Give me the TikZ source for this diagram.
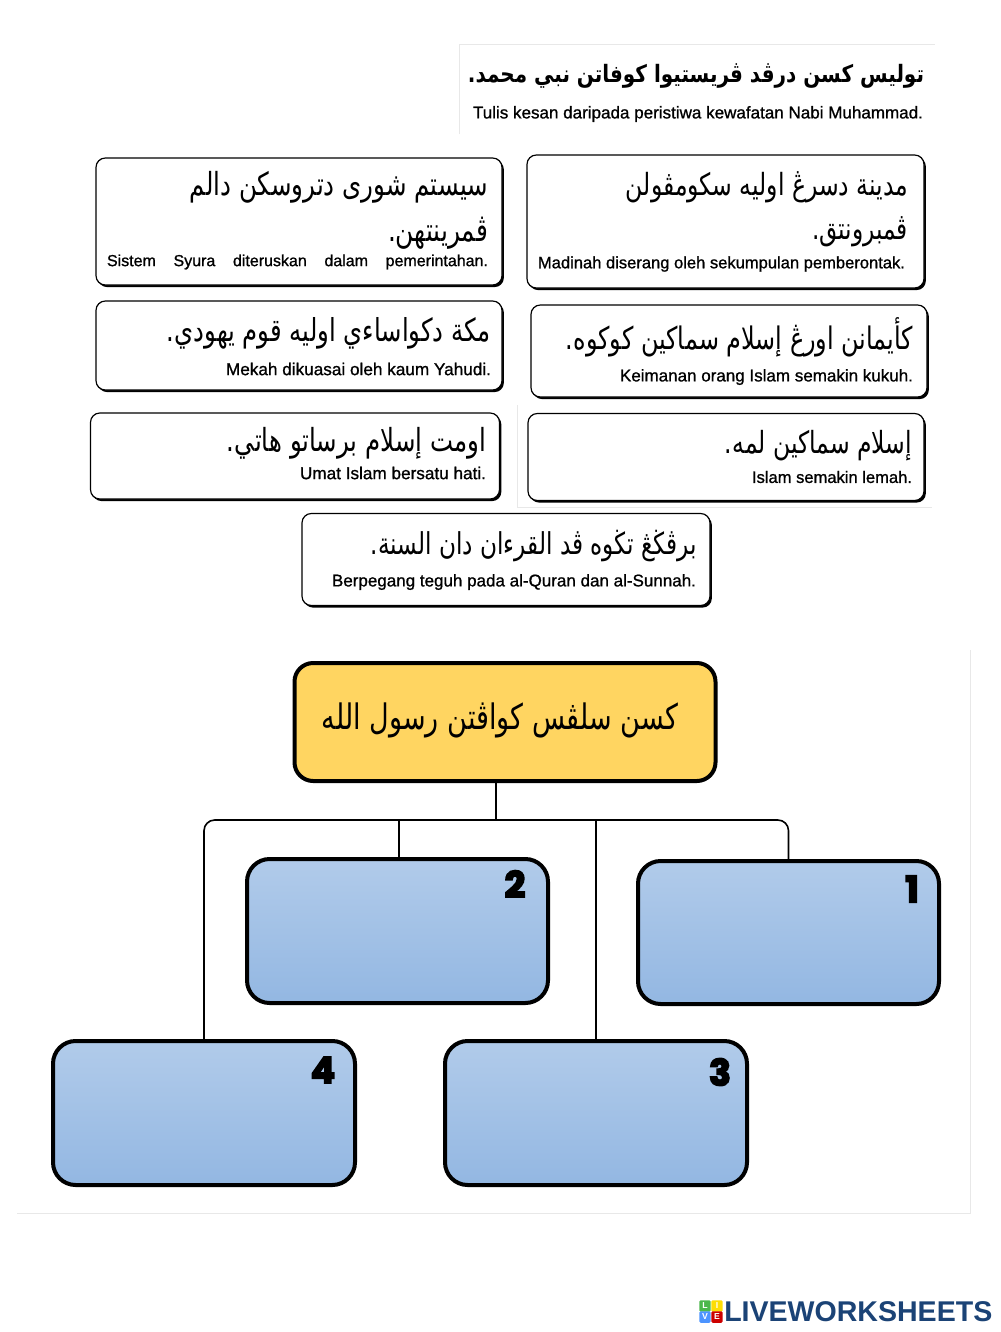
\documentclass[tikz,border=0pt]{standalone}
\usepackage{fontspec}
\usepackage{graphicx}
\usetikzlibrary{shadows,calc}
\setmainfont{Liberation Sans}
\newfontfamily\arabicfont[Script=Arabic]{DejaVu Sans}
\newfontfamily\latinfont[FakeBold=1]{Liberation Sans}
\newfontfamily\numfont[BoldFeatures={FakeBold=5}]{Poppins}
\TeXXeTstate=1
\definecolor{mainy}{HTML}{FFD561}
\definecolor{bluetop}{HTML}{B1CBEA}
\definecolor{bluebot}{HTML}{93B7E2}
\definecolor{faint}{HTML}{E8E8E8}
\definecolor{navy}{HTML}{1B4376}
\newcommand{\arfit}[2]{\resizebox{\dimexpr #1pt*3/4\relax}{!}{\scalebox{1}[1.3]{\arabicfont #2}}}
\newcommand{\arbold}[2]{\resizebox{\dimexpr #1pt*3/4\relax}{!}{\scalebox{1}[1.2]{\arabicfont\bfseries #2}}}
\newcommand{\lafit}[2]{\resizebox{\dimexpr #1pt*3/4\relax}{!}{\latinfont #2}}
\tikzset{
  x=0.75pt,y=-0.75pt,
  cardbox/.style={draw=black,fill=white,line width=0.9pt,rounded corners=7pt,inner sep=0pt,outer sep=0pt,
    general shadow={shadow xshift=1.4pt,shadow yshift=-1.6pt,fill=black}},
  mainbox/.style={draw=black,fill=mainy,line width=3pt,rounded corners=14pt,inner sep=0pt,outer sep=0pt},
  bluebox/.style={draw=black,line width=3pt,rounded corners=17pt,inner sep=0pt,outer sep=0pt,
    top color=bluetop,bottom color=bluebot,shading angle=0},
  conn/.style={draw=black,line width=1.2pt},
  rtext/.style={anchor=east,inner sep=0pt,outer sep=0pt,text=black},
  numlab/.style={inner sep=0pt,text=black,font=\numfont\bfseries\fontsize{27}{27}\selectfont},
  faintline/.style={draw=faint,line width=0.7pt},
  tile/.style={inner sep=0pt,minimum size=8.6pt,rounded corners=1pt,text=white,font=\bfseries\fontsize{6.5}{6.5}\selectfont},
}
\begin{document}
\begin{tikzpicture}
\useasboundingbox (0,0) rectangle (1000,1332);
\fill[white] (0,0) rectangle (1000,1332);
% faint scan edges
\draw[faintline] (459,134) -- (459,44) -- (935,44);
\draw[faintline] (517,405) -- (517,507) -- (932,507);
\draw[faintline] (17,1213) -- (970,1213) -- (970,650);
% title
\node[rtext] (titlear) at (924,76) {\arbold{456}{\beginR توليس كسن درڤد ڤريستيوا كوفاتن نبي محمد.\endR}};
\node[rtext] (titlela) at (923,114) {\lafit{450}{Tulis kesan daripada peristiwa kewafatan Nabi Muhammad.}};
% cards
\node[cardbox,minimum width=397*0.75pt,minimum height=133*0.75pt] (madinah) at (725.5,221.5) {};
\node[rtext] (madar1) at (908,187) {\arfit{282}{\beginR مدينة دسرڠ اوليه سكومڤولن\endR}};
\node[rtext] (madar2) at (908,232) {\arfit{96}{\beginR ڤمبرونتق.\endR}};
\node[rtext] (madla) at (905,264) {\lafit{367}{Madinah diserang oleh sekumpulan pemberontak.}};
\node[cardbox,minimum width=406*0.75pt,minimum height=127*0.75pt] (sistem) at (299,221.5) {};
\node[rtext] (sisar1) at (488,187) {\arfit{298}{\beginR سيستم شورى دتروسكن دالم\endR}};
\node[rtext] (sisar2) at (488,233) {\arfit{100}{\beginR ڤمرينتهن.\endR}};
\node[rtext] (sisla) at (488,262) {\makebox[285.75pt][s]{\latinfont\fontsize{12}{12}\selectfont Sistem Syura diteruskan dalam pemerintahan.}};
\node[cardbox,minimum width=406*0.75pt,minimum height=89*0.75pt] (mekah) at (299,345.5) {};
\node[rtext] (mekar) at (491,333) {\arfit{324}{\beginR مكة دكواساءي اوليه قوم يهودي.\endR}};
\node[rtext] (mekla) at (491,369) {\lafit{265}{Mekah dikuasai oleh kaum Yahudi.}};
\node[cardbox,minimum width=396*0.75pt,minimum height=92*0.75pt] (iman) at (729,351) {};
\node[rtext] (imanar) at (913,337) {\arfit{347}{\beginR كأيمانن اورڠ إسلام سماكين كوكوه.\endR}};
\node[rtext] (imanla) at (913,377) {\lafit{293}{Keimanan orang Islam semakin kukuh.}};
\node[cardbox,minimum width=409*0.75pt,minimum height=86*0.75pt] (umat) at (295,456) {};
\node[rtext] (umatar) at (486,443) {\arfit{259}{\beginR اومت إسلام برساتو هاتي.\endR}};
\node[rtext] (umatla) at (486,473) {\lafit{186}{Umat Islam bersatu hati.}};
\node[cardbox,minimum width=396*0.75pt,minimum height=87*0.75pt] (lemah) at (726,457) {};
\node[rtext] (lemar) at (912,446) {\arfit{187}{\beginR إسلام سماكين لمه.\endR}};
\node[rtext] (lemla) at (912,477) {\lafit{160}{Islam semakin lemah.}};
\node[cardbox,minimum width=408*0.75pt,minimum height=92*0.75pt] (pegang) at (506,559.5) {};
\node[rtext] (pegar) at (697,546) {\arfit{326}{\beginR برڤڬڠ تڬوه ڤد القرءان دان السنة.\endR}};
\node[rtext] (pegla) at (696,582) {\lafit{364}{Berpegang teguh pada al-Quran dan al-Sunnah.}};
% chart
\node[mainbox,minimum width=421*0.75pt,minimum height=118*0.75pt] (top) at (505,722) {};
\node[inner sep=0pt] (toptext) at (500,720) {\arfit{356}{\beginR كسن سلڤس كواڤتن رسول الله\endR}};
\node[bluebox,minimum width=301*0.75pt,minimum height=144*0.75pt] (b2) at (397.5,931) {};
\node[bluebox,minimum width=301*0.75pt,minimum height=143*0.75pt] (b1) at (788.5,932.5) {};
\node[bluebox,minimum width=302*0.75pt,minimum height=144*0.75pt] (b4) at (204,1113) {};
\node[bluebox,minimum width=302*0.75pt,minimum height=144*0.75pt] (b3) at (596,1113) {};
\node[numlab] (n2) at (515,884) {2};
\node[numlab] (n1) at (912,889) {1};
\node[numlab] (n4) at (323,1070) {4};
\node[numlab] (n3) at (720,1072) {3};
\coordinate (bus) at (496,820);
\draw[conn,rounded corners=8pt] (b4.north) |- (bus) -| (b1.north);
\draw[conn] (top.south -| bus) -- (bus);
\draw[conn] ([xshift=1pt]b2.north) -- ([xshift=1pt]b2.north |- bus);
\draw[conn] (b3.north) -- (b3.north |- bus);
% logo
\node[tile,fill=green!60!black!70!white] (tl) at (705,1306) {L};
\node[tile,fill=yellow!80!orange] (ti) at (717,1306) {I};
\node[tile,fill=blue!60!cyan!70] (tv) at (705,1317) {V};
\node[tile,fill=red!80!black] (te) at (717,1317) {E};
\node[anchor=west,inner sep=0pt,text=navy] (logo) at (724,1312) {\resizebox{201pt}{!}{\bfseries LIVEWORKSHEETS}};
\end{tikzpicture}
\end{document}
